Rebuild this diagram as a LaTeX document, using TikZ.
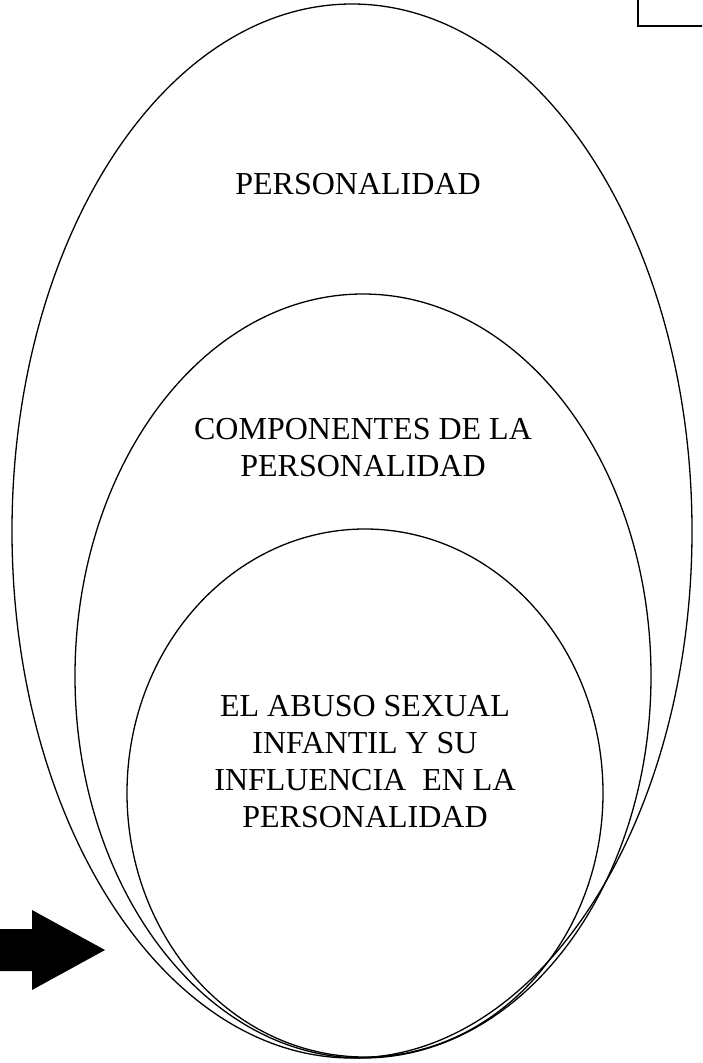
\documentclass[tikz,border=0pt]{standalone}
\usepackage{fontspec}
\setmainfont{Liberation Serif}
\usetikzlibrary{shapes.geometric}
\begin{document}
\begin{tikzpicture}[x=1pt,y=-1pt,
  ring/.style={draw=black,line width=1.3pt},
  label/.style={font=\fontsize{32}{37}\selectfont,align=center,inner sep=0pt,text=black},
  bigarrow/.style={fill=black,draw=none},
  cornerbox/.style={draw=black,line width=1.8pt,minimum width=200pt,minimum height=100pt,inner sep=0pt}]
\useasboundingbox (0,0) rectangle (702,1063);
% ellipses
\draw[ring] (352,531) ellipse [x radius=340, y radius=527];
\draw[ring] (363,676) ellipse [x radius=288, y radius=382];
\draw[ring] (365,793) ellipse [x radius=238, y radius=264];
% labels
\node[label] (t1) at (358,184) {PERSONALIDAD};
\node[label] (t2) at (363,448) {COMPONENTES DE LA\\PERSONALIDAD};
\node[label] (t3) at (365,762) {EL ABUSO SEXUAL\\INFANTIL Y SU\\INFLUENCIA\ \ EN LA\\PERSONALIDAD};
% arrow
\fill[bigarrow] (-2,929) -- (32,929) -- (32,910) -- (105,950) -- (32,990) -- (32,971) -- (-2,971) -- cycle;
% corner box
\begin{scope}
\clip (0,0) rectangle (702,1063);
\node[cornerbox,anchor=south west] (box) at (637,27) {};
\end{scope}
\end{tikzpicture}
\end{document}
